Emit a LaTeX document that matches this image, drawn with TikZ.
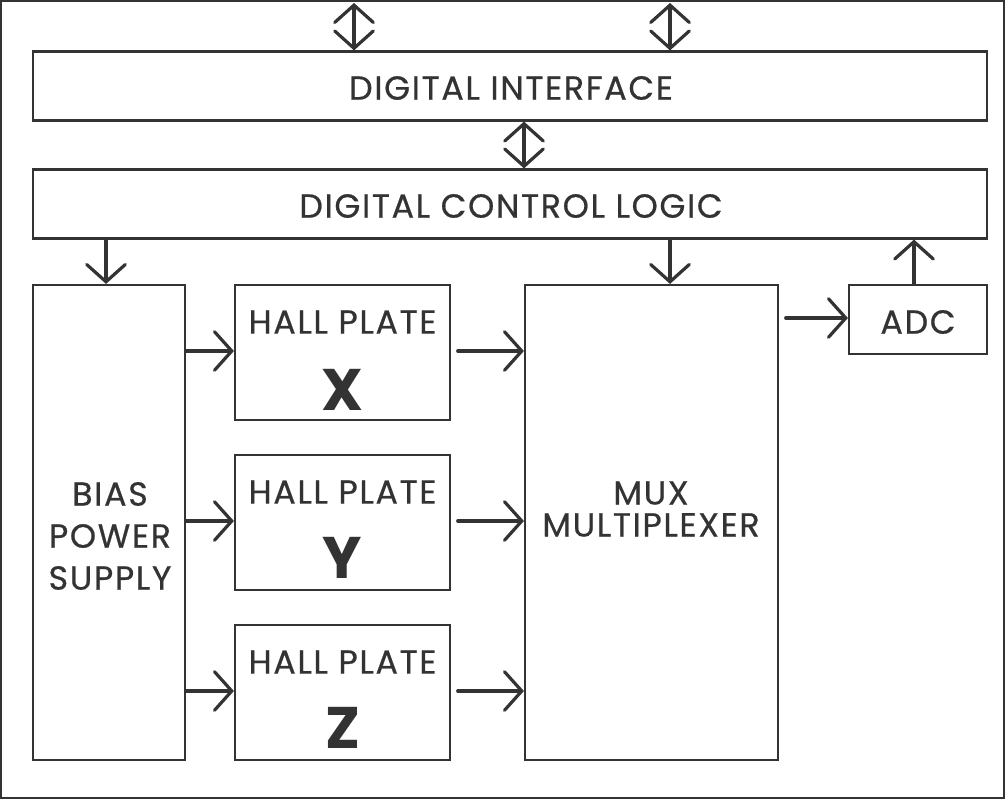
\documentclass[tikz,border=0pt]{standalone}
\usepackage{fontspec}
\setmainfont{Poppins}
\newfontfamily\lblfont{Poppins}[LetterSpace=5, FakeBold=0.6]
\usetikzlibrary{arrows.meta}
\definecolor{ink}{HTML}{333333}
\tikzset{
  box/.style={draw=ink, line width=1.6pt, inner sep=0pt},
  lbl/.style={text=ink, font=\lblfont\fontsize{25}{31.5}\selectfont, align=center},
  big/.style={text=ink, font=\fontsize{44}{46}\selectfont\bfseries},
  conn/.style={draw=ink, line width=2.4pt, line cap=round, -{Straight Barb[length=13pt,width=29pt,line width=2.4pt, line cap=round]}},
  dconn/.style={draw=ink, line width=2.4pt, line cap=round, {Straight Barb[length=13pt,width=29pt,line width=2.4pt, line cap=round]}-{Straight Barb[length=13pt,width=29pt,line width=2.4pt, line cap=round]}}
}
\begin{document}
\begin{tikzpicture}[x=0.75pt,y=-0.75pt]
\useasboundingbox (0,0) rectangle (1006,800);
\draw[box] (1,1) rectangle (1004,798);
% boxes
\node[box, minimum width=954*0.75pt, minimum height=69*0.75pt] (di) at (510,86) {};
\node[lbl] at (511,88) {DIGITAL INTERFACE};
\node[box, minimum width=954*0.75pt, minimum height=69*0.75pt] (dcl) at (510,204) {};
\node[lbl] at (511,206) {DIGITAL CONTROL LOGIC};
\node[box, minimum width=152*0.75pt, minimum height=475*0.75pt] (bias) at (109,522.5) {};
\node[lbl] at (110,536) {BIAS\\POWER\\SUPPLY};
\node[box, minimum width=215*0.75pt, minimum height=135*0.75pt] (hx) at (342.5,352.5) {};
\node[lbl] at (342.5,322) {HALL PLATE};
\node[big] at (342.5,390) {X};
\node[box, minimum width=215*0.75pt, minimum height=135*0.75pt] (hy) at (342.5,522.5) {};
\node[lbl] at (342.5,492) {HALL PLATE};
\node[big] at (342.5,558) {Y};
\node[box, minimum width=215*0.75pt, minimum height=135*0.75pt] (hz) at (342.5,692.5) {};
\node[lbl] at (342.5,662) {HALL PLATE};
\node[big] at (342.5,728) {Z};
\node[box, minimum width=253*0.75pt, minimum height=475*0.75pt] (mux) at (651.5,522.5) {};
\node[lbl] at (651,509) {MUX\\[-7.5pt]MULTIPLEXER};
\node[box, minimum width=138*0.75pt, minimum height=69*0.75pt] (adc) at (918,319.5) {};
\node[lbl] at (918,322) {ADC};
% helper coordinates
\coordinate (t1) at (354,3);
\coordinate (t2) at (670,3);
\coordinate (x524) at (524,0);
\coordinate (x106) at (106,0);
\coordinate (x914) at (914,0);
\coordinate (y351) at (0,351);
\coordinate (y521) at (0,521);
\coordinate (y691) at (0,691);
\coordinate (y318) at (0,318);
% connectors
\draw[dconn] (t1) -- (t1|-di.north);
\draw[dconn] (t2) -- (t2|-di.north);
\draw[dconn] (x524|-di.south) -- (x524|-dcl.north);
\draw[conn] (x106|-dcl.south) -- (x106|-bias.north);
\draw[conn] (t2|-dcl.south) -- (t2|-mux.north);
\draw[conn] (x914|-adc.north) -- (x914|-dcl.south);
\draw[conn] (bias.east|-y351) -- (hx.west|-y351);
\draw[conn] (bias.east|-y521) -- (hy.west|-y521);
\draw[conn] (bias.east|-y691) -- (hz.west|-y691);
\draw[conn] ([xshift=5pt]hx.east|-y351) -- (mux.west|-y351);
\draw[conn] ([xshift=5pt]hy.east|-y521) -- (mux.west|-y521);
\draw[conn] ([xshift=5pt]hz.east|-y691) -- (mux.west|-y691);
\draw[conn] ([xshift=5pt]mux.east|-y318) -- (adc.west|-y318);
\end{tikzpicture}
\end{document}
